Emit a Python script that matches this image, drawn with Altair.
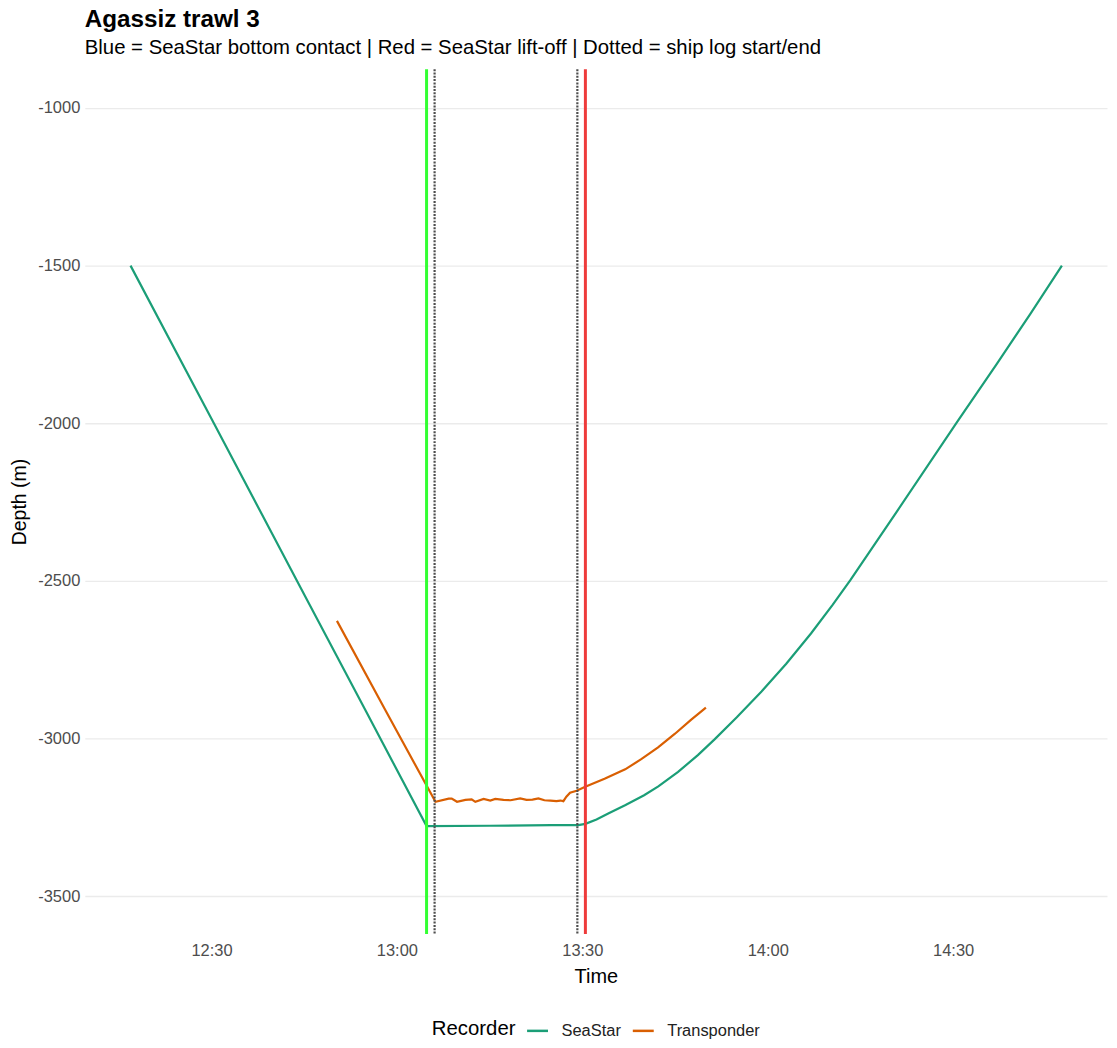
import altair as alt
import pandas as pd

# minutes after 12:00
seastar_min = [16.9, 30.0, 45.0, 55.0, 64.8, 75.0, 85.0, 89.35, 90.5, 92.3, 94.2, 97.0, 100.0, 102.3,
               105.5, 108.7, 111.4, 115.0, 119.0, 123.0, 127.0, 130.5, 133.4, 141.0,
               150.6, 157.1, 162.5, 167.6]
seastar_depth = [-1500, -1986, -2543, -2914, -3278, -3277, -3275, -3275, -3271, -3257, -3238, -3211, -3180,
                 -3152, -3106, -3053, -3003, -2933, -2851, -2763, -2667, -2576, -2497, -2277,
                 -1997, -1811, -1653, -1500]

trans_min = [50.3, 58.1, 66.24, 68.39, 68.87, 69.73, 71.08, 72.10, 72.69, 74.03, 75.11, 75.92, 77.26,
             78.39, 79.95, 80.97, 81.94, 82.90, 83.87, 84.84, 85.81, 86.45, 86.94, 87.42, 88.02, 89.08,
             90.48, 93.6, 96.94, 99.6, 102.26, 105.0, 107.58, 110.0]
trans_depth = [-2627, -2909, -3201, -3191, -3191, -3201, -3195, -3193, -3201, -3192, -3197, -3192, -3195,
               -3196, -3190, -3195, -3194, -3190, -3196, -3197, -3199, -3197, -3199, -3185, -3172, -3166,
               -3153, -3128, -3098, -3065, -3028, -2985, -2941, -2902]

contact_min = [64.8]
liftoff_min = [90.5]
shiplog_min = [66.1, 89.2]

x_ticks = [30, 60, 90, 120, 150]
y_ticks = [-1000, -1500, -2000, -2500, -3000, -3500]

df = pd.concat([
    pd.DataFrame({"min": seastar_min, "depth": seastar_depth, "Recorder": "SeaStar"}),
    pd.DataFrame({"min": trans_min, "depth": trans_depth, "Recorder": "Transponder"}),
])

FONT = "Liberation Sans"
xscale = alt.Scale(domain=[9.5, 174.9], nice=False, zero=False)
yscale = alt.Scale(domain=[-3620, -877], nice=False, zero=False)

xaxis = alt.Axis(values=x_ticks, title="Time", grid=False, domain=False, ticks=False,
                 labelExpr="floor(12 + datum.value/60) + ':' + (datum.value % 60 == 0 ? '00' : '30')",
                 labelFontSize=16.5, labelColor="#4D4D4D", labelPadding=9, titleFontSize=20,
                 titleFontWeight="normal", titleColor="#000000", titlePadding=7, labelFont=FONT, titleFont=FONT)
yaxis = alt.Axis(values=y_ticks, title="Depth (m)", grid=True, gridColor="#EBEBEB", gridWidth=1.3,
                 domain=False, ticks=False, labelFontSize=16.5, labelColor="#4D4D4D", labelPadding=5,
                 labelExpr="datum.value < 0 ? '-' + (-datum.value) : '' + datum.value",
                 titleFontSize=19.5, titleFontWeight="normal", titleColor="#000000", titlePadding=8,
                 labelFont=FONT, titleFont=FONT)

lines = alt.Chart(df).mark_line(strokeWidth=2.2).encode(
    x=alt.X("min:Q", scale=xscale, axis=xaxis),
    y=alt.Y("depth:Q", scale=yscale, axis=yaxis),
    color=alt.Color("Recorder:N",
                    scale=alt.Scale(domain=["SeaStar", "Transponder"], range=["#1B9E77", "#D95F02"]),
                    legend=alt.Legend(orient="none", direction="horizontal", titleOrient="left",
                                      legendX=348, legendY=952, titleFontSize=20.4, titleFontWeight="normal",
                                      titleColor="#000000", labelFontSize=16.5, labelColor="#222222",
                                      symbolType="stroke", symbolStrokeWidth=2.5, symbolSize=441,
                                      labelOffset=12, columnPadding=6, titleFont=FONT, labelFont=FONT,
                                      titlePadding=10)),
    order=alt.Order("min:Q"),
)

contact = alt.Chart(pd.DataFrame({"min": contact_min})).mark_rule(color="#33FF33", strokeWidth=3).encode(
    x=alt.X("min:Q", scale=xscale))
liftoff = alt.Chart(pd.DataFrame({"min": liftoff_min})).mark_rule(color="#EE3B3B", strokeWidth=3).encode(
    x=alt.X("min:Q", scale=xscale))
shiplog = alt.Chart(pd.DataFrame({"min": shiplog_min})).mark_rule(
    color="#4D4D4D", strokeWidth=2.2, strokeDash=[2, 1.3]).encode(x=alt.X("min:Q", scale=xscale))

chart = alt.layer(lines, contact, shiplog, liftoff).properties(
    width=1025, height=867,
    title=alt.TitleParams("Agassiz trawl 3",
                          subtitle="Blue = SeaStar bottom contact | Red = SeaStar lift-off | Dotted = ship log start/end",
                          anchor="start", frame="group", fontSize=24.3, fontWeight="bold", color="#000000",
                          subtitleFontSize=20.4, subtitleColor="#000000", font=FONT, subtitleFont=FONT,
                          offset=9, subtitlePadding=6),
    autosize=alt.AutoSizeParams(type="none"),
    padding={"left": 77, "top": 60, "right": 2, "bottom": 105},
).configure(background="white").configure_view(strokeWidth=0)

chart.save("out.html", embed_options={"renderer": "svg", "actions": False})
